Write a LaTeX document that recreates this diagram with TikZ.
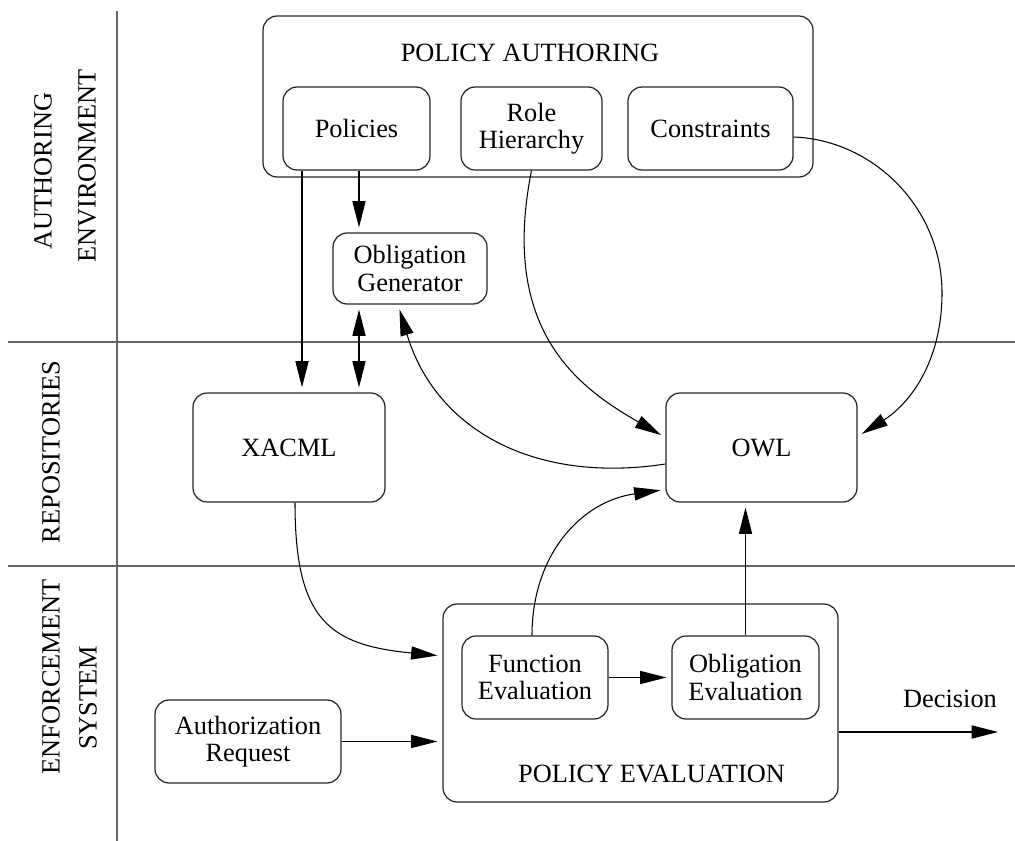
\documentclass[tikz,border=0pt]{standalone}
\usepackage{fontspec}
\setmainfont{Liberation Serif}
\usetikzlibrary{arrows.meta,calc}
\begin{document}
\begin{tikzpicture}[x=0.02cm,y=-0.02cm,
  font=\fontsize{15}{15.5}\selectfont,
  box/.style={draw=black!85,line width=0.7pt,rounded corners=8pt,inner sep=0pt,align=center},
  lane/.style={draw=black!60,line width=0.9pt},
  tip/.style={Triangle[length=15pt,width=7.5pt]},
  arr/.style={-{Triangle[length=15pt,width=7.5pt]},line width=0.6pt,shorten >=0.1cm},
  darr/.style={{Triangle[length=15pt,width=7.5pt]}-{Triangle[length=15pt,width=7.5pt]},line width=0.6pt,shorten >=0.1cm,shorten <=0.1cm},
  lanelabel/.style={rotate=90,inner sep=0pt}]
\useasboundingbox (0,0) rectangle (1015,841);

% swim lanes
\coordinate (vtop) at (117,11);
\coordinate (vbot) at (117,841);
\coordinate (h1l) at (8,342);
\coordinate (h1r) at (1015,342);
\coordinate (h2l) at (8,566);
\coordinate (h2r) at (1015,566);
\draw[lane] (vtop) -- (vbot);
\draw[lane] (h1l) -- (h1r);
\draw[lane] (h2l) -- (h2r);

\node[lanelabel] (l1a) at (43,171) {AUTHORING};
\node[lanelabel] (l1b) at (87,166) {ENVIRONMENT};
\node[lanelabel] (l2) at (51,452) {REPOSITORIES};
\node[lanelabel] (l3a) at (51,677) {ENFORCEMENT};
\node[lanelabel] (l3b) at (88,698) {SYSTEM};

% authoring
\node[box,minimum width=11cm,minimum height=3.22cm] (pa) at (538,96.5) {};
\node (patitle) at (530,53) {POLICY AUTHORING};
\node[box,minimum width=2.94cm,minimum height=1.66cm] (pol) at (356.5,128.5) {Policies};
\node[box,minimum width=2.82cm,minimum height=1.66cm] (role) at (531.5,128.5) {Role\\Hierarchy};
\node[box,minimum width=3.3cm,minimum height=1.66cm] (cons) at (710.5,128.5) {Constraints};
\node[box,minimum width=3.08cm,minimum height=1.42cm] (og) at (410,268.5) {Obligation\\Generator};

% repositories
\node[box,minimum width=3.84cm,minimum height=2.18cm] (xacml) at (289,447.5) {XACML};
\node[box,minimum width=3.82cm,minimum height=2.18cm] (owl) at (761.5,447.5) {OWL};

% enforcement
\node[box,minimum width=7.9cm,minimum height=3.96cm] (pe) at (640.5,703) {};
\node (petitle) at (651.5,774) {POLICY EVALUATION};
\node[box,minimum width=2.92cm,minimum height=1.66cm] (fe) at (535,677.5) {Function\\Evaluation};
\node[box,minimum width=2.94cm,minimum height=1.66cm] (oe) at (745.5,677.5) {Obligation\\Evaluation};
\node[box,minimum width=3.72cm,minimum height=1.66cm] (ar) at (248,741.5) {Authorization\\Request};
\node (declabel) at (950,699) {Decision};

% connectors
\draw[arr] (302,0 |- pol.south) -- (302,0 |- xacml.north);
\draw[arr] (359,0 |- pol.south) -- (359,0 |- og.north);
\draw[darr] (359,0 |- og.south) -- (359,0 |- xacml.north);
\draw[arr] ($(owl.west)+(0,16.5)$) .. controls +(-130,20) and +(38,126) .. ($(og.south)+(-12,0)$);
\draw[arr] (role.south) .. controls +(-32,160) and +(-87,-50) .. ($(owl.west)+(0,-10)$);
\coordinate (cturn) at (942,293);
\draw[arr] ($(cons.east)+(0,8.5)$) .. controls +(80,3) and +(0,-85) .. (cturn)
  .. controls +(0,70) and +(51,-32) .. ($(owl.east)+(0,-11)$);
\draw[arr] ($(xacml.south)+(6,0)$) .. controls +(0,118) and +(-113,-11) .. ($(pe.west)+(0,-47)$);
\draw[arr] (ar.east) -- (ar.east -| pe.west);
\draw[arr] ($(fe.north)+(-3,0)$) .. controls +(0,-80) and +(-85,12) .. ($(owl.west)+(0,42)$);
\draw[arr] (oe.north) -- (oe.north |- owl.south);
\draw[arr] (fe.east) -- (oe.west);
\coordinate (decend) at (998,732);
\draw[arr,shorten >=0pt] ($(pe.east)+(0,29)$) -- (decend);
\end{tikzpicture}
\end{document}
